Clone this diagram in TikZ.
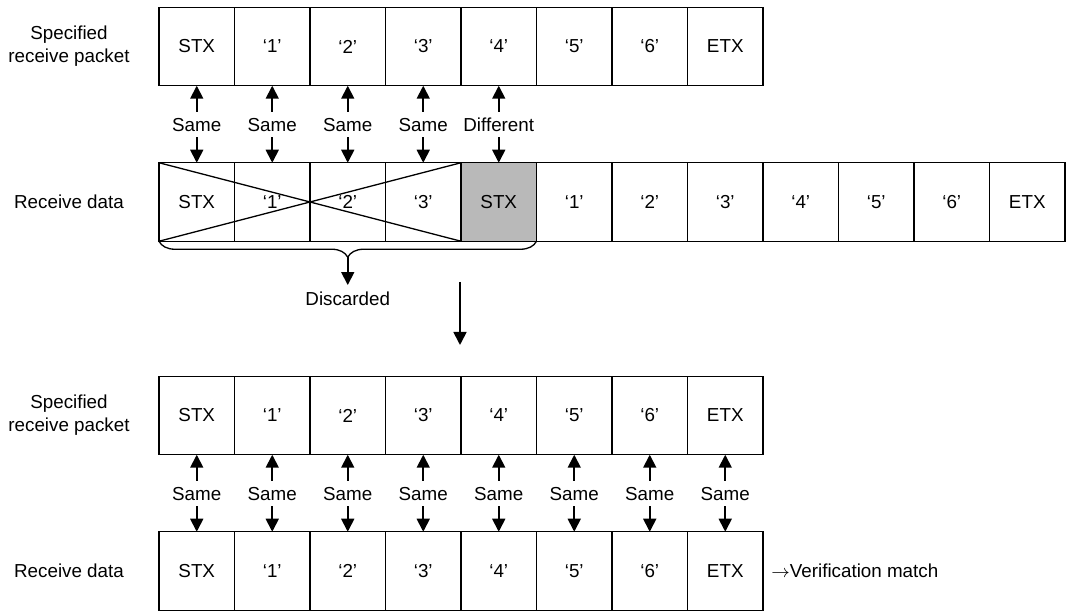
\documentclass[tikz,border=0pt]{standalone}
\usepackage{fontspec}
\setmainfont{Liberation Sans}
\usetikzlibrary{arrows.meta,decorations.pathreplacing}
\definecolor{hitgray}{RGB}{185,185,185}
\tikzset{
  txt/.style={font=\fontsize{9.4}{11.5}\selectfont},
  cell/.style={txt, draw, line width=0.7pt, minimum width=37.75pt, minimum height=39.25pt, inner sep=0pt, outer sep=0pt},
  cmp/.style={txt, inner sep=2.9pt, text height=6.7pt, text depth=0pt},
  rowlbl/.style={txt, align=center},
  arr/.style={line width=0.9pt, -{Triangle[width=6.5pt,length=6.5pt]}},
  thin/.style={line width=0.65pt}
}
\begin{document}
\begin{tikzpicture}[x=0.5pt,y=-0.5pt]
\useasboundingbox (0,0) rectangle (1072,613);
% first comparison
\node[rowlbl] (lpa) at (69,46.5) {Specified\\receive packet};
\node[rowlbl] (lda) at (69,202) {Receive data};
\foreach \t [count=\i] in {STX,‘1’,‘2’,‘3’,‘4’,‘5’,‘6’,ETX}
  \node[cell] (pa\i) at ({196.75+75.5*(\i-1)},46.5) {\t};
\foreach \t/\f [count=\i] in {STX/white,‘1’/white,‘2’/white,‘3’/white,STX/hitgray,‘1’/white,‘2’/white,‘3’/white,‘4’/white,‘5’/white,‘6’/white,ETX/white}
  \node[cell, fill=\f] (da\i) at ({196.75+75.5*(\i-1)},202) {\t};
\draw[thin] (da1.north west) -- (da4.south east);
\draw[thin] (da1.south west) -- (da4.north east);
\foreach \r [count=\i] in {Same,Same,Same,Same,Different} {
  \node[cmp] (ca\i) at ({196.75+75.5*(\i-1)},124.5) {\r};
  \draw[arr] (ca\i) -- (pa\i);
  \draw[arr] (ca\i) -- (da\i);
}
\draw[thin, decorate, decoration={brace, mirror, amplitude=8pt}] (da1.south west) -- (da5.south east);
\coordinate (bt) at (347.75,257);
\node[txt] (disc) at (347.75,299) {Discarded};
\draw[arr] (bt) -- (disc);
% step down
\coordinate (s1) at (460,282);
\coordinate (s2) at (460,345);
\draw[arr] (s1) -- (s2);
% second comparison
\node[rowlbl] (lpb) at (69,415.5) {Specified\\receive packet};
\node[rowlbl] (ldb) at (69,571) {Receive data};
\foreach \t [count=\i] in {STX,‘1’,‘2’,‘3’,‘4’,‘5’,‘6’,ETX} {
  \node[cell] (pb\i) at ({196.75+75.5*(\i-1)},415.5) {\t};
  \node[cell] (db\i) at ({196.75+75.5*(\i-1)},571) {\t};
  \node[cmp] (cb\i) at ({196.75+75.5*(\i-1)},493.5) {Same};
  \draw[arr] (cb\i) -- (pb\i);
  \draw[arr] (cb\i) -- (db\i);
}
\node[txt, anchor=west, inner sep=0pt] (vm) at (771,571) {$\rightarrow$Verification match};
\end{tikzpicture}
\end{document}
